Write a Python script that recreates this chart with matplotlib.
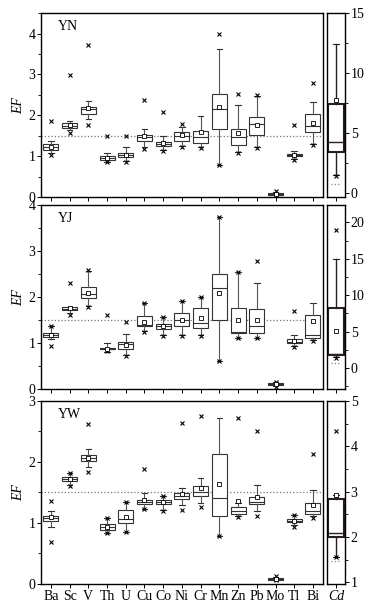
import numpy as np
import matplotlib
matplotlib.use('Agg')
import matplotlib.pyplot as plt
from matplotlib.ticker import MultipleLocator

plt.rcParams['font.family'] = ['Liberation Serif', 'DejaVu Serif']
plt.rcParams['font.size'] = 10

nan = np.nan
elements = ['Ba', 'Sc', 'V', 'Th', 'U', 'Cu', 'Co', 'Ni', 'Cr', 'Mn', 'Zn', 'Pb', 'Mo', 'Tl', 'Bi']

# YN
yn_q1 = [1.15, 1.69, 2.03, 0.91, 0.97, 1.36, 1.24, 1.38, 1.32, 1.67, 1.28, 1.53, 0.05, 1.01, 1.58]
yn_med = [1.23, 1.75, 2.16, 0.95, 1.03, 1.46, 1.30, 1.50, 1.48, 2.16, 1.46, 1.79, 0.07, 1.04, 1.75]
yn_q3 = [1.30, 1.80, 2.21, 1.01, 1.09, 1.52, 1.35, 1.58, 1.61, 2.51, 1.67, 1.95, 0.09, 1.06, 2.03]
yn_wlo = [1.09, 1.65, 1.91, 0.87, 0.89, 1.23, 1.15, 1.24, 1.22, 0.79, 1.10, 1.23, 0.04, 0.93, 1.30]
yn_whi = [1.36, 1.85, 2.34, 1.08, 1.22, 1.67, 1.50, 1.72, 1.98, 3.62, 2.24, 2.48, 0.12, 1.13, 2.32]
yn_mean = [1.23, 1.76, 2.18, 0.96, 1.04, 1.49, 1.32, 1.51, 1.58, 2.20, 1.57, 1.77, 0.07, 1.04, 1.81]
yn_xlo = [1.04, 1.56, 1.77, 0.86, 0.86, 1.18, 1.13, 1.23, 1.19, 0.78, 1.07, 1.20, nan, 0.91, 1.28]
yn_xhi = [1.87, 2.98, 3.71, 1.49, 1.49, 2.38, 2.09, 1.79, nan, 3.99, 2.52, 2.50, 0.15, 1.77, 2.78]

# YJ
yj_q1 = [1.14, 1.72, 1.97, 0.86, 0.87, 1.36, 1.30, 1.37, 1.32, 1.51, 1.21, 1.22, 0.09, 0.99, 1.10]
yj_med = [1.17, 1.75, 2.06, 0.88, 0.97, 1.39, 1.38, 1.50, 1.43, 2.19, 1.25, 1.36, 0.11, 1.03, 1.17]
yj_q3 = [1.22, 1.79, 2.22, 0.90, 1.03, 1.59, 1.42, 1.66, 1.77, 2.49, 1.77, 1.73, 0.13, 1.09, 1.61]
yj_wlo = [1.08, 1.65, 1.80, 0.81, 0.74, 1.27, 1.17, 1.17, 1.17, 0.61, 1.12, 1.12, 0.07, 0.94, 1.07]
yj_whi = [1.36, 1.79, 2.57, 0.99, 1.19, 1.86, 1.56, 1.91, 1.99, 3.73, 2.55, 2.31, 0.15, 1.17, 1.88]
yj_mean = [1.17, 1.76, 2.09, 0.88, 0.96, 1.45, 1.36, 1.51, 1.54, 2.08, 1.51, 1.50, 0.11, 1.05, 1.48]
yj_xlo = [0.93, 1.62, 1.79, 0.82, 0.72, 1.25, 1.16, 1.16, 1.16, 0.61, 1.12, 1.12, 0.05, 0.92, 1.05]
yj_xhi = [1.38, 2.30, 2.59, 1.62, 1.45, 1.86, 1.56, 1.91, 1.99, 3.73, 2.55, 2.79, 0.16, 1.70, nan]

# YW
yw_q1 = [1.04, 1.69, 2.01, 0.89, 1.00, 1.31, 1.31, 1.39, 1.45, 1.12, 1.15, 1.31, 0.07, 1.02, 1.15]
yw_med = [1.08, 1.72, 2.06, 0.93, 1.06, 1.34, 1.34, 1.45, 1.50, 1.41, 1.19, 1.35, 0.08, 1.04, 1.19]
yw_q3 = [1.12, 1.75, 2.11, 0.98, 1.22, 1.38, 1.38, 1.49, 1.61, 2.13, 1.27, 1.43, 0.09, 1.06, 1.33]
yw_wlo = [0.93, 1.63, 1.91, 0.83, 0.86, 1.23, 1.21, 1.30, 1.33, 0.78, 1.11, 1.19, 0.06, 0.97, 1.11]
yw_whi = [1.20, 1.82, 2.21, 1.08, 1.34, 1.49, 1.45, 1.58, 1.73, 2.72, 1.33, 1.63, 0.11, 1.13, 1.54]
yw_mean = [1.09, 1.72, 2.07, 0.93, 1.09, 1.38, 1.34, 1.47, 1.57, 1.64, 1.36, 1.42, 0.08, 1.04, 1.30]
yw_xlo = [0.69, 1.60, 1.84, 0.83, 0.86, 1.23, 1.20, 1.21, 1.27, 0.78, 1.09, 1.12, 0.06, 0.94, 1.08]
yw_xhi = [1.36, 1.82, 2.62, 1.08, 1.34, 1.89, 1.45, 2.64, 2.76, nan, 2.72, 2.50, 0.13, 1.13, 2.13]

# Cd (q1, med, q3, wlo, whi, mean, xlo, xhi) per site
cd_yn = [3.47, 4.25, 7.4, 1.5, 12.4, 7.8, 1.45, nan]
cd_yj = [1.83, 1.9, 8.2, 1.5, 15.0, 5.1, 1.4, 18.9]
cd_yw = [2.0, 2.09, 2.84, 1.56, 2.93, 2.93, 1.56, 4.34]

sites = ['YN', 'YJ', 'YW']
main_data = [
    (yn_q1, yn_med, yn_q3, yn_wlo, yn_whi, yn_mean, yn_xlo, yn_xhi),
    (yj_q1, yj_med, yj_q3, yj_wlo, yj_whi, yj_mean, yj_xlo, yj_xhi),
    (yw_q1, yw_med, yw_q3, yw_wlo, yw_whi, yw_mean, yw_xlo, yw_xhi),
]
cd_data = [cd_yn, cd_yj, cd_yw]
left_ylim = [(0, 4.5), (0, 4), (0, 3)]
cd_ylim = [(-0.3, 15.0), (-2.9, 22.4), (0.96, 5.0)]
cd_major = [5, 5, 1]
cd_ref = [0.77, 0.7, 1.46]

# axes rectangles (fig fractions)
rows = [(0.679, 0.2997), (0.3664, 0.2997), (0.0489, 0.298)]
main_x = (0.107, 0.736)
cd_x = (0.854, 0.047)


def make_stats(q1, med, q3, wlo, whi, mean, xlo, xhi):
    stats = []
    for i in range(len(q1)):
        fl = [v for v in (xlo[i], xhi[i]) if not np.isnan(v)]
        stats.append(dict(q1=q1[i], med=med[i], q3=q3[i], whislo=wlo[i],
                          whishi=whi[i], mean=mean[i], fliers=fl))
    return stats


fl_props = dict(marker='x', markersize=2.5, markeredgecolor='black', markeredgewidth=0.8)
mean_props = dict(marker='s', markersize=2.5, markerfacecolor='white',
                  markeredgecolor='black', markeredgewidth=0.6)

fig = plt.figure(figsize=(3.83, 6.14), dpi=100)

for r in range(3):
    b, h = rows[r]
    ax = fig.add_axes([main_x[0], b, main_x[1], h])
    st = make_stats(*main_data[r])
    pos = np.arange(1, len(elements) + 1)
    ax.bxp(st, positions=pos, widths=0.8, capwidths=0.3, showmeans=True, patch_artist=True,
           boxprops=dict(edgecolor='#333333', linewidth=0.8, facecolor='white'),
           medianprops=dict(color='#333333', linewidth=0.8),
           whiskerprops=dict(color='#555555', linewidth=0.8),
           capprops=dict(color='#333333', linewidth=0.8),
           flierprops=fl_props, meanprops=mean_props)
    ax.axhline(1.5, color='#777777', ls=':', lw=0.9, zorder=0)
    ax.set_xlim(0.47, len(elements) + 0.53)
    ax.set_ylim(*left_ylim[r])
    ax.yaxis.set_major_locator(MultipleLocator(1))
    ax.yaxis.set_minor_locator(MultipleLocator(0.5))
    ax.set_xticks(pos)
    if r == 2:
        ax.set_xticklabels(elements)
    else:
        ax.set_xticklabels([])
    ax.tick_params(direction='out', length=3, width=0.7, pad=1)
    ax.tick_params(which='minor', direction='out', length=2, width=0.6)
    ax.set_ylabel('EF', fontstyle='italic', labelpad=2)
    ax.text(0.06, 0.96, sites[r], transform=ax.transAxes, va='top', ha='left', fontsize=10)
    for s in ax.spines.values():
        s.set_linewidth(1.0)

    cax = fig.add_axes([cd_x[0], b, cd_x[1], h])
    c = cd_data[r]
    cst = make_stats([c[0]], [c[1]], [c[2]], [c[3]], [c[4]], [c[5]], [c[6]], [c[7]])
    cax.bxp(cst, positions=[0], widths=0.85, capwidths=0.3, showmeans=True, patch_artist=True,
            boxprops=dict(edgecolor='#2a1f1a', linewidth=1.5, facecolor='white'),
            medianprops=dict(color='#2a1f1a', linewidth=1.0),
            whiskerprops=dict(color='#2a1f1a', linewidth=1.0),
            capprops=dict(color='#2a1f1a', linewidth=0.8),
            flierprops=fl_props, meanprops=mean_props)
    cax.plot([-0.3, 0.3], [cd_ref[r]] * 2, color='#888888', ls=':', lw=0.9)
    cax.set_xlim(-0.5, 0.5)
    cax.set_ylim(*cd_ylim[r])
    cax.yaxis.set_major_locator(MultipleLocator(cd_major[r]))
    cax.yaxis.set_minor_locator(MultipleLocator(cd_major[r] / 2))
    cax.yaxis.tick_right()
    cax.set_xticks([0])
    if r == 2:
        cax.set_xticklabels(['Cd'], fontstyle='italic')
    else:
        cax.set_xticklabels([])
    cax.tick_params(direction='out', length=3, width=0.7, pad=1)
    cax.tick_params(which='minor', direction='out', length=2, width=0.6)
    for s in cax.spines.values():
        s.set_linewidth(1.0)

fig.savefig('out.png', dpi=100)
